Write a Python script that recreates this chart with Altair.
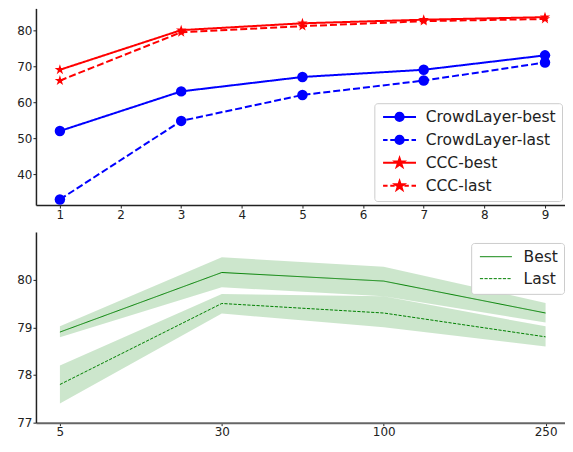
import altair as alt
import numpy as np
import pandas as pd

# ---------------- data ----------------
x_top = [1, 3, 5, 7, 9]
series_names = ["CrowdLayer-best", "CrowdLayer-last", "CCC-best", "CCC-last"]
crowd_best = [52, 63, 67, 69, 73]
crowd_last = [33, 54.8, 62, 66, 71]
ccc_best = [69, 80, 81.9, 82.9, 83.6]
ccc_last = [66, 79.4, 81.1, 82.5, 83.1]

x_bottom = ["5", "30", "100", "250"]
run_names = ["Best", "Last"]
best_mean = [78.9, 80.15, 79.97, 79.3]
best_lo = [78.79, 79.84, 79.65, 79.1]
best_hi = [79.02, 80.47, 80.27, 79.51]
last_mean = [77.8, 79.5, 79.3, 78.8]
last_lo = [77.4, 79.29, 79.0, 78.6]
last_hi = [78.2, 79.7, 79.65, 79.02]

# ---------------- tables ----------------
top_rows = []
for k, (name, vals) in enumerate(zip(series_names, [crowd_best, crowd_last, ccc_best, ccc_last])):
    for x, v in zip(x_top, vals):
        top_rows.append({"x": x, "acc": v, "series": name, "label": name, "order": k})
top_df = pd.DataFrame(top_rows)

bot_rows = []
for name, m, lo, hi in [("Best", best_mean, best_lo, best_hi), ("Last", last_mean, last_lo, last_hi)]:
    for i, (x, a, b, c) in enumerate(zip(x_bottom, m, lo, hi)):
        bot_rows.append({"xi": i, "xc": x, "mean": a, "lo": b, "hi": c, "run": name})
bot_df = pd.DataFrame(bot_rows)

# ---------------- symbols ----------------
def star_path(scale=1.0, cx=0.0, inner=0.381966):
    pts = []
    for k in range(10):
        ang = np.deg2rad(-90 + 36 * k)
        r = scale if k % 2 == 0 else scale * inner
        pts.append((cx + r * np.cos(ang), r * np.sin(ang)))
    return "M" + "L".join(f"{px:.3f},{py:.3f}" for px, py in pts) + "Z"


def circle_path(r, cx=0.0):
    return f"M{cx + r:.3f},0A{r},{r} 0 1,1 {cx - r:.3f},0A{r},{r} 0 1,1 {cx + r:.3f},0Z"


# legend symbol unit: symbolSize 100 -> 5 px per unit, symbol box centre at 5 px
U = 5.0
def seg(a, b):
    return f"M{(a - 5) / U:.3f},0L{(b - 5) / U:.3f},0"

solid_seg = seg(0, 33)
dash_seg = seg(0, 4.5) + seg(7.2, 11.6) + seg(21.4, 25.8) + seg(28.5, 33)
cx_leg = (16.5 - 5) / U
legend_paths = [
    solid_seg + circle_path(4.1 / U, cx_leg),
    dash_seg + circle_path(4.1 / U, cx_leg),
    solid_seg + star_path(4.7 / U, cx_leg),
    dash_seg + star_path(4.7 / U, cx_leg),
]
series_colors = ["#0000ff", "#0000ff", "#ff0000", "#ff0000"]

FONT = "DejaVu Sans"
W = 530

color_scale = alt.Scale(domain=series_names, range=series_colors)
x_top_enc = alt.X("x:Q", scale=alt.Scale(domain=[0.605, 9.33], nice=False, zero=False),
                  axis=alt.Axis(values=list(range(1, 10)), format="d", title=None))
y_top_enc = alt.Y("acc:Q", scale=alt.Scale(domain=[31.45, 86.04], nice=False, zero=False),
                  axis=alt.Axis(values=[40, 50, 60, 70, 80], title=None))

lines_top = alt.Chart(top_df).mark_line(strokeWidth=2).encode(
    x=x_top_enc, y=y_top_enc,
    color=alt.Color("series:N", scale=color_scale, legend=None),
    strokeDash=alt.StrokeDash("series:N", scale=alt.Scale(domain=series_names,
                              range=[[1, 0], [7, 3], [1, 0], [7, 3]]), legend=None),
)
circles_top = alt.Chart(top_df).transform_filter(
    alt.FieldOneOfPredicate(field="series", oneOf=series_names[:2])
).mark_point(filled=True, size=110, opacity=1, shape="circle").encode(
    x=x_top_enc, y=y_top_enc,
    color=alt.Color("series:N", scale=color_scale, legend=None),
)
stars_top = alt.Chart(top_df).transform_filter(
    alt.FieldOneOfPredicate(field="series", oneOf=series_names[2:])
).mark_point(filled=True, size=120, opacity=1, shape=star_path(1.0)).encode(
    x=x_top_enc, y=y_top_enc,
    color=alt.Color("series:N", scale=color_scale, legend=None),
)
top_legend = alt.Legend(
    title=None, orient="none", legendX=339, legendY=95,
    symbolSize=100, symbolOpacity=1, symbolStrokeWidth=2,
    labelFontSize=15.5, labelFont=FONT, labelColor="#222222",
    labelOffset=30, padding=6, rowPadding=5, fillColor="white", strokeColor="#cccccc",
    cornerRadius=3,
)
legend_sort = alt.EncodingSortField(field="order", op="min")
# legend-only layer (marks invisible); its data-driven domain keeps it apart from the hidden legends
legend_layer = alt.Chart(top_df).mark_point(filled=True, opacity=0, strokeWidth=2).encode(
    x=x_top_enc, y=y_top_enc,
    fill=alt.Fill("label:N", sort=legend_sort, scale=alt.Scale(range=series_colors), legend=top_legend),
    stroke=alt.Stroke("label:N", sort=legend_sort, scale=alt.Scale(range=series_colors), legend=top_legend),
    shape=alt.Shape("label:N", sort=legend_sort, scale=alt.Scale(range=legend_paths), legend=top_legend),
)
top = alt.layer(lines_top, circles_top, stars_top, legend_layer).properties(width=W, height=197)

x_bot_enc = alt.X("xi:Q", scale=alt.Scale(domain=[-0.148, 3.12], nice=False, zero=False),
                  axis=alt.Axis(values=[0, 1, 2, 3], labelAngle=0, title=None,
                                labelExpr=f"{x_bottom}[datum.value]".replace("'", '"'),
                                domainColor="#666666", domainWidth=2))
y_bot_scale = alt.Scale(domain=[77, 81], nice=False, zero=False)

bands = alt.Chart(bot_df).mark_area(color="green", opacity=0.2).encode(
    x=x_bot_enc,
    y=alt.Y("lo:Q", scale=y_bot_scale, axis=alt.Axis(values=[77, 78, 79, 80], title=None)),
    y2="hi:Q",
    detail="run:N",
)
lines_bot = alt.Chart(bot_df).mark_line(color="green", strokeWidth=1).encode(
    x=x_bot_enc,
    y=alt.Y("mean:Q", scale=y_bot_scale),
    strokeDash=alt.StrokeDash("run:N", scale=alt.Scale(domain=run_names, range=[[1, 0], [3.2, 1.4]]),
                              legend=alt.Legend(title=None, orient="none", legendX=436, legendY=11,
                                                symbolType=seg(0, 32), symbolSize=100,
                                                symbolStrokeColor="green", symbolStrokeWidth=1,
                                                labelFontSize=15.5, labelFont=FONT, labelColor="#222222",
                                                labelOffset=31, padding=6, rowPadding=5,
                                                fillColor="white", strokeColor="#cccccc", cornerRadius=3)),
)
bottom = alt.layer(bands, lines_bot).properties(width=W, height=191)

chart = alt.vconcat(top, bottom, spacing=12).resolve_scale(
    color="independent", strokeDash="independent", shape="independent",
    fill="independent", stroke="independent", x="independent", y="independent"
).properties(
    padding={"left": 8, "top": 0, "right": 0, "bottom": 0}
).configure_view(stroke=None).configure_axis(
    grid=False, labelFont=FONT, labelFontSize=12, labelColor="#222222",
    domainColor="#222222", domainWidth=1.5, tickColor="#222222", tickSize=3, tickWidth=1,
    labelPadding=1,
)

chart.save("out.html", embed_options={"renderer": "svg", "actions": False})
